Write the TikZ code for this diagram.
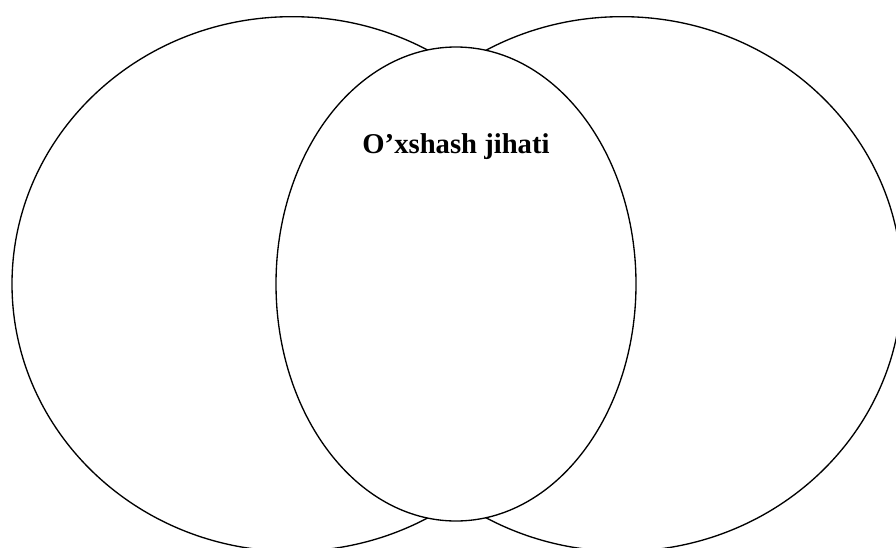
\documentclass[tikz,border=0pt]{standalone}
\usepackage{fontspec}
\setmainfont{Liberation Serif}
\usepackage{tikz}
\usetikzlibrary{positioning,shapes.geometric}

\begin{document}
\begin{tikzpicture}[
  x=0.75pt, y=-0.75pt,
  set/.style={draw, ellipse, line width=1pt, inner sep=0pt, minimum width=420pt, minimum height=401pt},
  common/.style={draw, ellipse, fill=white, line width=1pt, inner sep=0pt, minimum width=270pt, minimum height=355.5pt},
  label/.style={font=\bfseries\fontsize{21.5}{26}\selectfont, anchor=base}
]

% Page frame
\fill[white] (0,0) rectangle (896,547);
\clip (0,0) rectangle (896,547);

% Outer sets
\node[set] (SetA) at (292,284) {};
\node[set] (SetB) at (622,284) {};

% Common part
\node[common] (Both) at (456,284) {};
\node[label] (BothText) at (456,153) {O’xshash jihati};

\end{tikzpicture}
\end{document}
